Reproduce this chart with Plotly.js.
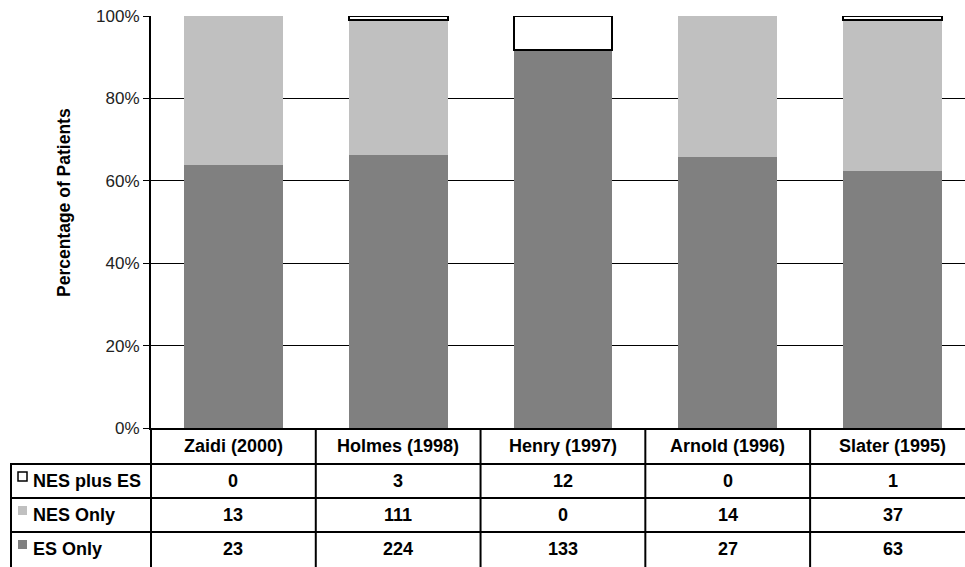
<!DOCTYPE html>
<html>
<head>
<meta charset="utf-8">
<script src="https://cdn.plot.ly/plotly-3.0.1.min.js"></script>
<style>html,body{margin:0;padding:0;background:#fff;}#chart{width:965px;height:567px;}</style>
</head>
<body>
<div id="chart"></div>
<script>
// ---- data ----
const categories = ['Zaidi (2000)', 'Holmes (1998)', 'Henry (1997)', 'Arnold (1996)', 'Slater (1995)'];
const nesPlusEs = [0, 3, 12, 0, 1];
const nesOnly = [13, 111, 0, 14, 37];
const esOnly = [23, 224, 133, 27, 63];
const seriesNames = ['NES plus ES', 'NES Only', 'ES Only'];
const yTickVals = [0, 20, 40, 60, 80, 100];
const yTickText = ['0%', '20%', '40%', '60%', '80%', '100%'];
const yTitle = 'Percentage of Patients';

// ---- layout geometry (pixels) ----
const W = 965, H = 567;
const L = 151, T = 16, B = 139, R = 0;
const PW = W - L - R, PH = H - T - B;
const px2x = p => (p - L) / PW;
const py2y = p => (T + PH - p) / PH;

const FN = "'Liberation Sans', Arial, Helvetica, sans-serif";
const FS = 18;
const black = '#000000';

const colES = '#808080', colNES = '#c0c0c0', colBoth = '#ffffff';

const traces = [
  { type: 'bar', name: seriesNames[2], x: categories, y: esOnly,
    marker: { color: colES, line: { width: 0 } }, width: 0.6, hoverinfo: 'x+y+name' },
  { type: 'bar', name: seriesNames[1], x: categories, y: nesOnly,
    marker: { color: colNES, line: { width: 0 } }, width: 0.6, hoverinfo: 'x+y+name' },
  { type: 'bar', name: seriesNames[0], x: categories, y: nesPlusEs,
    marker: { color: colBoth, line: { color: black, width: nesPlusEs.map(v => v > 0 ? 2 : 0) } },
    width: 0.6, hoverinfo: 'x+y+name' }
];

// ---- table ----
const rowLines = [464, 498, 532];        // horizontal separators (px)
const headerY = 446;
const rowCenters = [481, 515, 549];
const rowValues = [nesPlusEs, nesOnly, esOnly];
const keyColors = [colBoth, colNES, colES];

const shapes = [];
const annotations = [];

// y-axis extension down through table
shapes.push({ type: 'line', xref: 'paper', yref: 'paper', x0: 0, x1: 0, y0: 0, y1: py2y(H + 2),
  line: { color: black, width: 2 } });
// column dividers
for (let i = 0; i < categories.length - 1; i++) {
  shapes.push({ type: 'line', xref: 'x', yref: 'paper', x0: i + 0.5, x1: i + 0.5, y0: 0, y1: py2y(H + 2),
    line: { color: black, width: 2 } });
}
// left border
shapes.push({ type: 'line', xref: 'paper', yref: 'paper', x0: px2x(11), x1: px2x(11), y0: py2y(rowLines[0]), y1: py2y(H + 2),
  line: { color: black, width: 2 } });
// horizontal row lines
rowLines.forEach(p => {
  shapes.push({ type: 'line', xref: 'paper', yref: 'paper', x0: px2x(10), x1: 1, y0: py2y(p), y1: py2y(p),
    line: { color: black, width: 2 } });
});

// header text
categories.forEach((c, i) => {
  annotations.push({ xref: 'x', yref: 'paper', x: c, y: py2y(headerY), text: '<b>' + c + '</b>',
    showarrow: false, xanchor: 'center', yanchor: 'middle', font: { family: FN, size: FS, color: black } });
});
// rows
seriesNames.forEach((s, r) => {
  const cy = rowCenters[r];
  annotations.push({ xref: 'paper', yref: 'paper', x: px2x(31), y: py2y(cy), text: '<b>' + s + '</b>',
    showarrow: false, xanchor: 'left', yanchor: 'middle', font: { family: FN, size: FS, color: black } });
  shapes.push({ type: 'rect', xref: 'paper', yref: 'paper',
    x0: px2x(18), x1: px2x(27), y0: py2y(cy - 9), y1: py2y(cy),
    fillcolor: keyColors[r], line: { color: r === 0 ? black : keyColors[r], width: r === 0 ? 1.5 : 0 } });
  rowValues[r].forEach((v, i) => {
    annotations.push({ xref: 'x', yref: 'paper', x: categories[i], y: py2y(cy), text: '<b>' + v + '</b>',
      showarrow: false, xanchor: 'center', yanchor: 'middle', font: { family: FN, size: FS, color: black } });
  });
});

// y-axis title
annotations.push({ xref: 'paper', yref: 'paper', x: px2x(64), y: py2y(203), text: '<b>' + yTitle + '</b>',
  textangle: -90, showarrow: false, xanchor: 'center', yanchor: 'middle',
  font: { family: FN, size: 17.5, color: black } });

const layout = {
  width: W, height: H,
  margin: { l: L, r: R, t: T, b: B, pad: 0 },
  paper_bgcolor: '#ffffff', plot_bgcolor: '#ffffff',
  barmode: 'stack', barnorm: 'percent',
  showlegend: false,
  xaxis: {
    type: 'category', range: [-0.5, 4.44], showticklabels: false, ticks: '',
    showgrid: false, zeroline: false, showline: true, linecolor: black, linewidth: 2, fixedrange: true
  },
  yaxis: {
    range: [0, 100], tickvals: yTickVals, ticktext: yTickText,
    ticks: 'outside', ticklen: 6, tickwidth: 1, tickcolor: black,
    showgrid: true, gridcolor: black, gridwidth: 1,
    zeroline: false, showline: true, linecolor: black, linewidth: 2,
    tickfont: { family: FN, size: 17, color: '#222' }, fixedrange: true
  },
  shapes: shapes,
  annotations: annotations,
  font: { family: FN }
};

Plotly.newPlot('chart', traces, layout, { displayModeBar: false, staticPlot: true });
</script>
</body>
</html>
